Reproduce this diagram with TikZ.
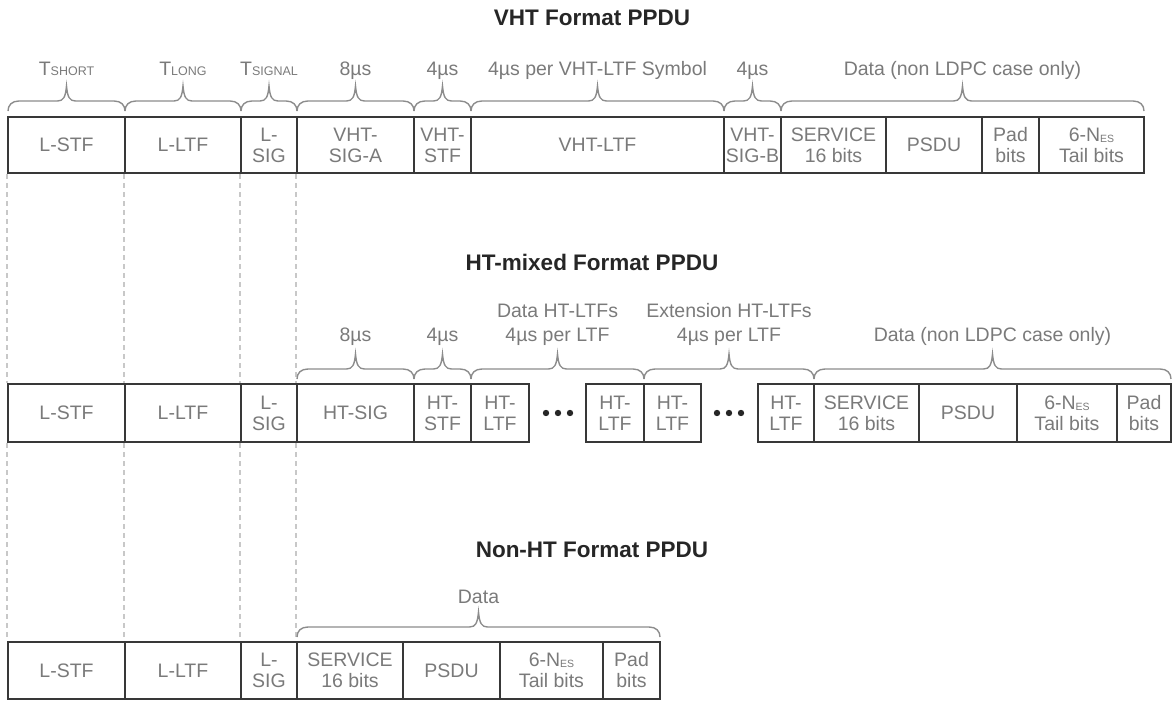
\documentclass[tikz,border=0pt]{standalone}
\usepackage{fontspec}
\setmainfont{Liberation Sans}
\definecolor{boxline}{HTML}{383838}
\definecolor{labgray}{HTML}{7A7A7A}
\definecolor{bracegray}{HTML}{8C8C8C}
\definecolor{guidegray}{HTML}{C8C8C8}
\definecolor{titlecol}{HTML}{262626}
\newcommand\lsub[1]{{\fontsize{12.5}{12.5}\selectfont\raisebox{-1pt}{#1}}}
\newcommand\nsub[1]{{\fontsize{10.5}{10.5}\selectfont\raisebox{-1pt}{#1}}}
\newcommand\cell[6]{\node[cellbox, minimum width={(#3-#2)*1pt}, minimum height={(#5-#4)*1pt}] (#1) at ({(#2+#3)/2},{(#4+#5)/2}) {#6};}
\newcommand\brc[3]{%
  \draw[bracepath] (#1,#3) .. controls (#1,#3-6) and (#1+4,#3-10) .. (#1+11,#3-10)
   -- ({(#1+#2)/2-9},#3-10) .. controls ({(#1+#2)/2-3},#3-10) and ({(#1+#2)/2-1},#3-14) .. ({(#1+#2)/2},#3-25)
   .. controls ({(#1+#2)/2+1},#3-14) and ({(#1+#2)/2+3},#3-10) .. ({(#1+#2)/2+9},#3-10)
   -- (#2-11,#3-10) .. controls (#2-4,#3-10) and (#2,#3-6) .. (#2,#3);}
\tikzset{
  cellbox/.style={draw=boxline, line width=2.2pt, fill=white, inner sep=0pt, align=center,
    text=labgray, font=\fontsize{19.5}{21}\selectfont},
  bracepath/.style={draw=bracegray, line width=1.4pt},
  blab/.style={text=labgray, font=\fontsize{19.5}{24}\selectfont, inner sep=0pt, align=center},
  guide/.style={draw=guidegray, line width=1.2pt, dash pattern=on 5pt off 4pt},
  ptitle/.style={text=titlecol, font=\fontsize{22.5}{24}\selectfont\bfseries, inner sep=0pt},
  dotfill/.style={fill=black!85}
}
\begin{document}
\begin{tikzpicture}[x=1pt,y=-1pt]
\useasboundingbox (0,0) rectangle (1173,701);
% titles
\node[ptitle] (t1) at (592,18) {VHT Format PPDU};
\node[ptitle] (t2) at (592,262) {HT-mixed Format PPDU};
\node[ptitle] (t3) at (592,550) {Non-HT Format PPDU};
% VHT row
\cell{v1}{8}{125}{117}{173}{L-STF}
\cell{v2}{125}{241}{117}{173}{L-LTF}
\cell{v3}{241}{297}{117}{173}{L-\\SIG}
\cell{v4}{297}{414}{117}{173}{VHT-\\SIG-A}
\cell{v5}{414}{471}{117}{173}{VHT-\\STF}
\cell{v6}{471}{724}{117}{173}{VHT-LTF}
\cell{v7}{724}{781}{117}{173}{VHT-\\SIG-B}
\cell{v8}{781}{886}{117}{173}{SERVICE\\16 bits}
\cell{v9}{886}{982}{117}{173}{PSDU}
\cell{v10}{982}{1039}{117}{173}{Pad\\bits}
\cell{v11}{1039}{1144}{117}{173}{6-N\nsub{ES}\\Tail bits}
% HT row
\cell{h1}{8}{125}{384}{442}{L-STF}
\cell{h2}{125}{241}{384}{442}{L-LTF}
\cell{h3}{241}{297}{384}{442}{L-\\SIG}
\cell{h4}{297}{414}{384}{442}{HT-SIG}
\cell{h5}{414}{471}{384}{442}{HT-\\STF}
\cell{h6}{471}{529}{384}{442}{HT-\\LTF}
\cell{h7}{586}{644}{384}{442}{HT-\\LTF}
\cell{h8}{644}{701}{384}{442}{HT-\\LTF}
\cell{h9}{758}{814}{384}{442}{HT-\\LTF}
\cell{h10}{814}{919}{384}{442}{SERVICE\\16 bits}
\cell{h11}{919}{1017}{384}{442}{PSDU}
\cell{h12}{1017}{1117}{384}{442}{6-N\nsub{ES}\\Tail bits}
\cell{h13}{1117}{1171}{384}{442}{Pad\\bits}
% Non-HT row
\cell{n1}{8}{125}{642}{699}{L-STF}
\cell{n2}{125}{241}{642}{699}{L-LTF}
\cell{n3}{241}{297}{642}{699}{L-\\SIG}
\cell{n4}{297}{403}{642}{699}{SERVICE\\16 bits}
\cell{n5}{403}{500}{642}{699}{PSDU}
\cell{n6}{500}{603}{642}{699}{6-N\nsub{ES}\\Tail bits}
\cell{n7}{603}{660}{642}{699}{Pad\\bits}
% guide lines
\draw[guide] (v1.south west) -- (h1.north west);
\draw[guide] (v2.south west) -- (h2.north west);
\draw[guide] (v3.south west) -- (h3.north west);
\draw[guide] (v4.south west) -- (h4.north west);
\draw[guide] (h1.south west) -- (n1.north west);
\draw[guide] (h2.south west) -- (n2.north west);
\draw[guide] (h3.south west) -- (n3.north west);
\draw[guide] (h4.south west) -- (n4.north west);
% ellipsis dots
\foreach \xx in {546,558,570,717,729,741} \fill[dotfill] (\xx,413) circle (3.2pt);
% VHT braces
\brc{8}{125}{111}
\brc{125}{241}{111}
\brc{241}{297}{111}
\brc{297}{414}{111}
\brc{414}{471}{111}
\brc{471}{724}{111}
\brc{724}{781}{111}
\brc{781}{1144}{111}
\node[blab, anchor=base] (a1) at (66.5,75) {T\lsub{SHORT}};
\node[blab, anchor=base] (a2) at (183,75) {T\lsub{LONG}};
\node[blab, anchor=base] (a3) at (269,75) {T\lsub{SIGNAL}};
\node[blab, anchor=base] (a4) at (355.5,75) {8µs};
\node[blab, anchor=base] (a5) at (442.5,75) {4µs};
\node[blab, anchor=base] (a6) at (597.5,75) {4µs per VHT-LTF Symbol};
\node[blab, anchor=base] (a7) at (752.5,75) {4µs};
\node[blab, anchor=base] (a8) at (962.5,75) {Data (non LDPC case only)};
% HT braces
\brc{297}{414}{379}
\brc{414}{471}{379}
\brc{471}{644}{379}
\brc{644}{814}{379}
\brc{814}{1171}{379}
\node[blab, anchor=base] (b1) at (355.5,341) {8µs};
\node[blab, anchor=base] (b2) at (442.5,341) {4µs};
\node[blab, anchor=south] (b3) at (557.5,345.5) {Data HT-LTFs\\4µs per LTF};
\node[blab, anchor=south] (b4) at (729,345.5) {Extension HT-LTFs\\4µs per LTF};
\node[blab, anchor=base] (b5) at (992.5,341) {Data (non LDPC case only)};
% Non-HT brace
\brc{297}{660}{637}
\node[blab, anchor=base] (c1) at (478.5,603) {Data};
\end{tikzpicture}
\end{document}
